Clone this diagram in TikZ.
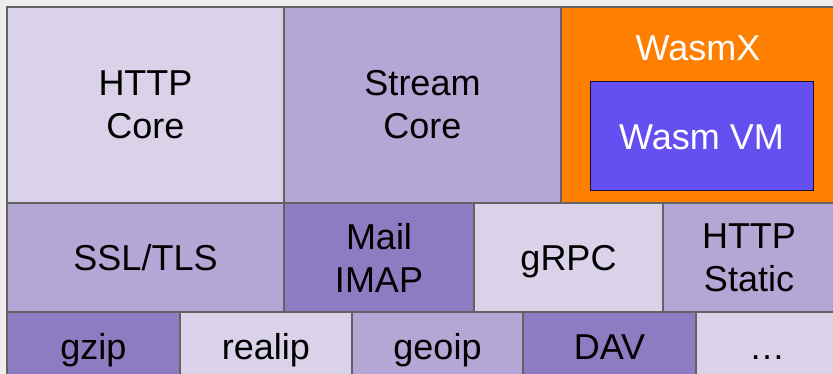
\documentclass[tikz,border=0pt]{standalone}
\usepackage{fontspec}
\setmainfont{Liberation Sans}
\definecolor{lavlight}{HTML}{D9D2E9}
\definecolor{lavmid}{HTML}{B4A7D6}
\definecolor{lavdark}{HTML}{8E7CC3}
\definecolor{wasmorange}{HTML}{FF8000}
\definecolor{wasmpurple}{HTML}{654FF0}
\definecolor{edgegrey}{HTML}{636363}
\definecolor{backgrey}{HTML}{EDEDED}

\begin{document}
\begin{tikzpicture}[x=1pt,y=-1pt]
	\tikzset{block/.style={draw=edgegrey,line width=1.5pt,fill=#1,inner sep=0pt,outer sep=0pt,
			font=\fontsize{36}{43}\selectfont,align=center,text height=26pt,text depth=0pt},
		two lines/.style={text height={},text depth={}}}
	
	\useasboundingbox (0,0) rectangle (833,374);
	\clip (0,0) rectangle (833,374);
	\fill[backgrey] (0,0) rectangle (833,374);
	
	% top row
	\node [block=lavlight, two lines, minimum width=277pt, minimum height=196pt] (http) at (145.5,105) {HTTP\\Core};
	\node [block=lavmid, two lines, minimum width=277pt, minimum height=196pt] (stream) at (422.5,105) {Stream\\Core};
	\node [block=wasmorange, minimum width=274pt, minimum height=196pt] (wasmx) at (698,105) {};
	\node [font=\fontsize{36}{43}\selectfont, text=white, text height=26pt, text depth=0pt] (wasmxlabel) at (698,48) {WasmX};
	\node [block=wasmpurple, draw=black!80!wasmpurple, line width=1pt, text=white, minimum width=223pt, minimum height=109pt] (vm) at (701.5,136.5) {Wasm VM};
	
	% middle row
	\node [block=lavmid, minimum width=277pt, minimum height=109pt] (ssl) at (145.5,257.5) {SSL/TLS};
	\node [block=lavdark, two lines, minimum width=190pt, minimum height=109pt] (mail) at (379,257.5) {Mail\\IMAP};
	\node [block=lavlight, minimum width=189pt, minimum height=109pt] (grpc) at (568.5,257.5) {gRPC};
	\node [block=lavmid, two lines, minimum width=172pt, minimum height=109pt] (static) at (749,257.5) {HTTP\\Static};
	
	% bottom row
	\node [block=lavdark, minimum width=173pt, minimum height=68pt] (gzip) at (93.5,346) {gzip};
	\node [block=lavlight, minimum width=172pt, minimum height=68pt] (realip) at (266,346) {realip};
	\node [block=lavmid, minimum width=171pt, minimum height=68pt] (geoip) at (437.5,346) {geoip};
	\node [block=lavdark, minimum width=173pt, minimum height=68pt] (dav) at (609.5,346) {DAV};
	\node [block=lavlight, minimum width=142pt, minimum height=68pt] (more) at (767,346) {\dots};
\end{tikzpicture}
\end{document}
